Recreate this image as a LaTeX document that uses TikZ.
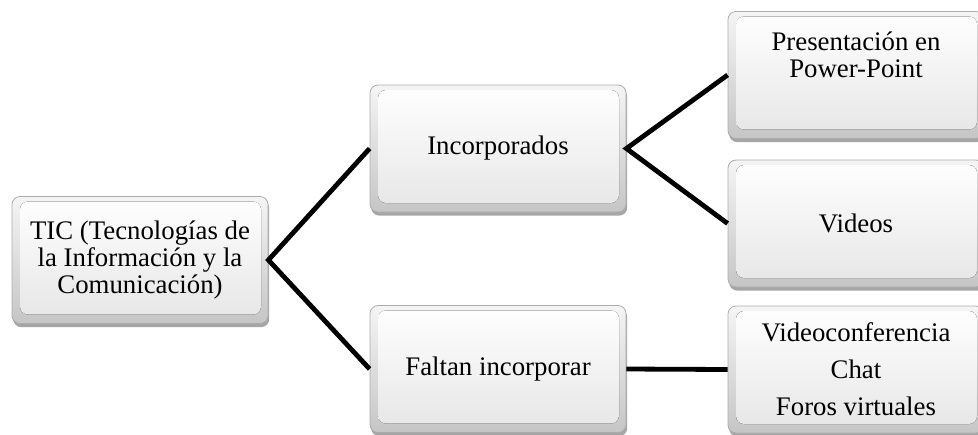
\documentclass[tikz,border=0pt]{standalone}
\usepackage{fontspec}
\setmainfont{Liberation Serif}
\usetikzlibrary{
    shadows,
    positioning
}
\tikzset{
    caja/.style={rectangle, rounded corners=4pt, draw=gray!65, minimum width=128pt, minimum height=63.5pt,
        inner sep=2pt, align=center, font=\fontsize{13.4}{13.3}\selectfont,
        top color=gray!8, bottom color=gray!45,
        drop shadow={shadow xshift=0.6pt, shadow yshift=-1.8pt, opacity=0.35, fill=black},
        path picture={\fill[top color=white, bottom color=gray!20]
            ([shift={(4pt,-2.5pt)}]path picture bounding box.north west) rectangle
            ([shift={(-3.5pt,4.5pt)}]path picture bounding box.south east);}},
    rama/.style={line width=2.4pt, black, line join=miter}
}

\begin{document}
\begin{tikzpicture}[x=0.5pt, y=-0.5pt]
    \useasboundingbox (0, 0) rectangle (978, 434);
    \node[caja] (tic) at (140, 260) {TIC (Tecnologías de\\la Información y la\\Comunicación)};
    \node[caja] (inc) at (498, 148.5) {Incorporados};
    \node[caja] (fal) at (498, 369) {Faltan incorporar};
    \node[caja] (pres) at (856, 75) {};
    \node[inner sep=0pt, align=center, font=\fontsize{13.4}{13.3}\selectfont, below=10.3pt of pres.north] (prestxt) {Presentación en\\Power-Point};
    \node[caja] (vid) at (856, 223.5) {Videos};
    \node[caja, font=\fontsize{13.4}{18.5}\selectfont] (vc) at (856, 369.5) {Videoconferencia\\Chat\\Foros virtuales};
    % ramas
    \draw[rama] (inc.west) -- (tic.east) -- (fal.west);
    \draw[rama] (pres.west) -- (inc.east) -- (vid.west);
    \draw[rama] (fal.east) -- (vc.west);
\end{tikzpicture}
\end{document}
